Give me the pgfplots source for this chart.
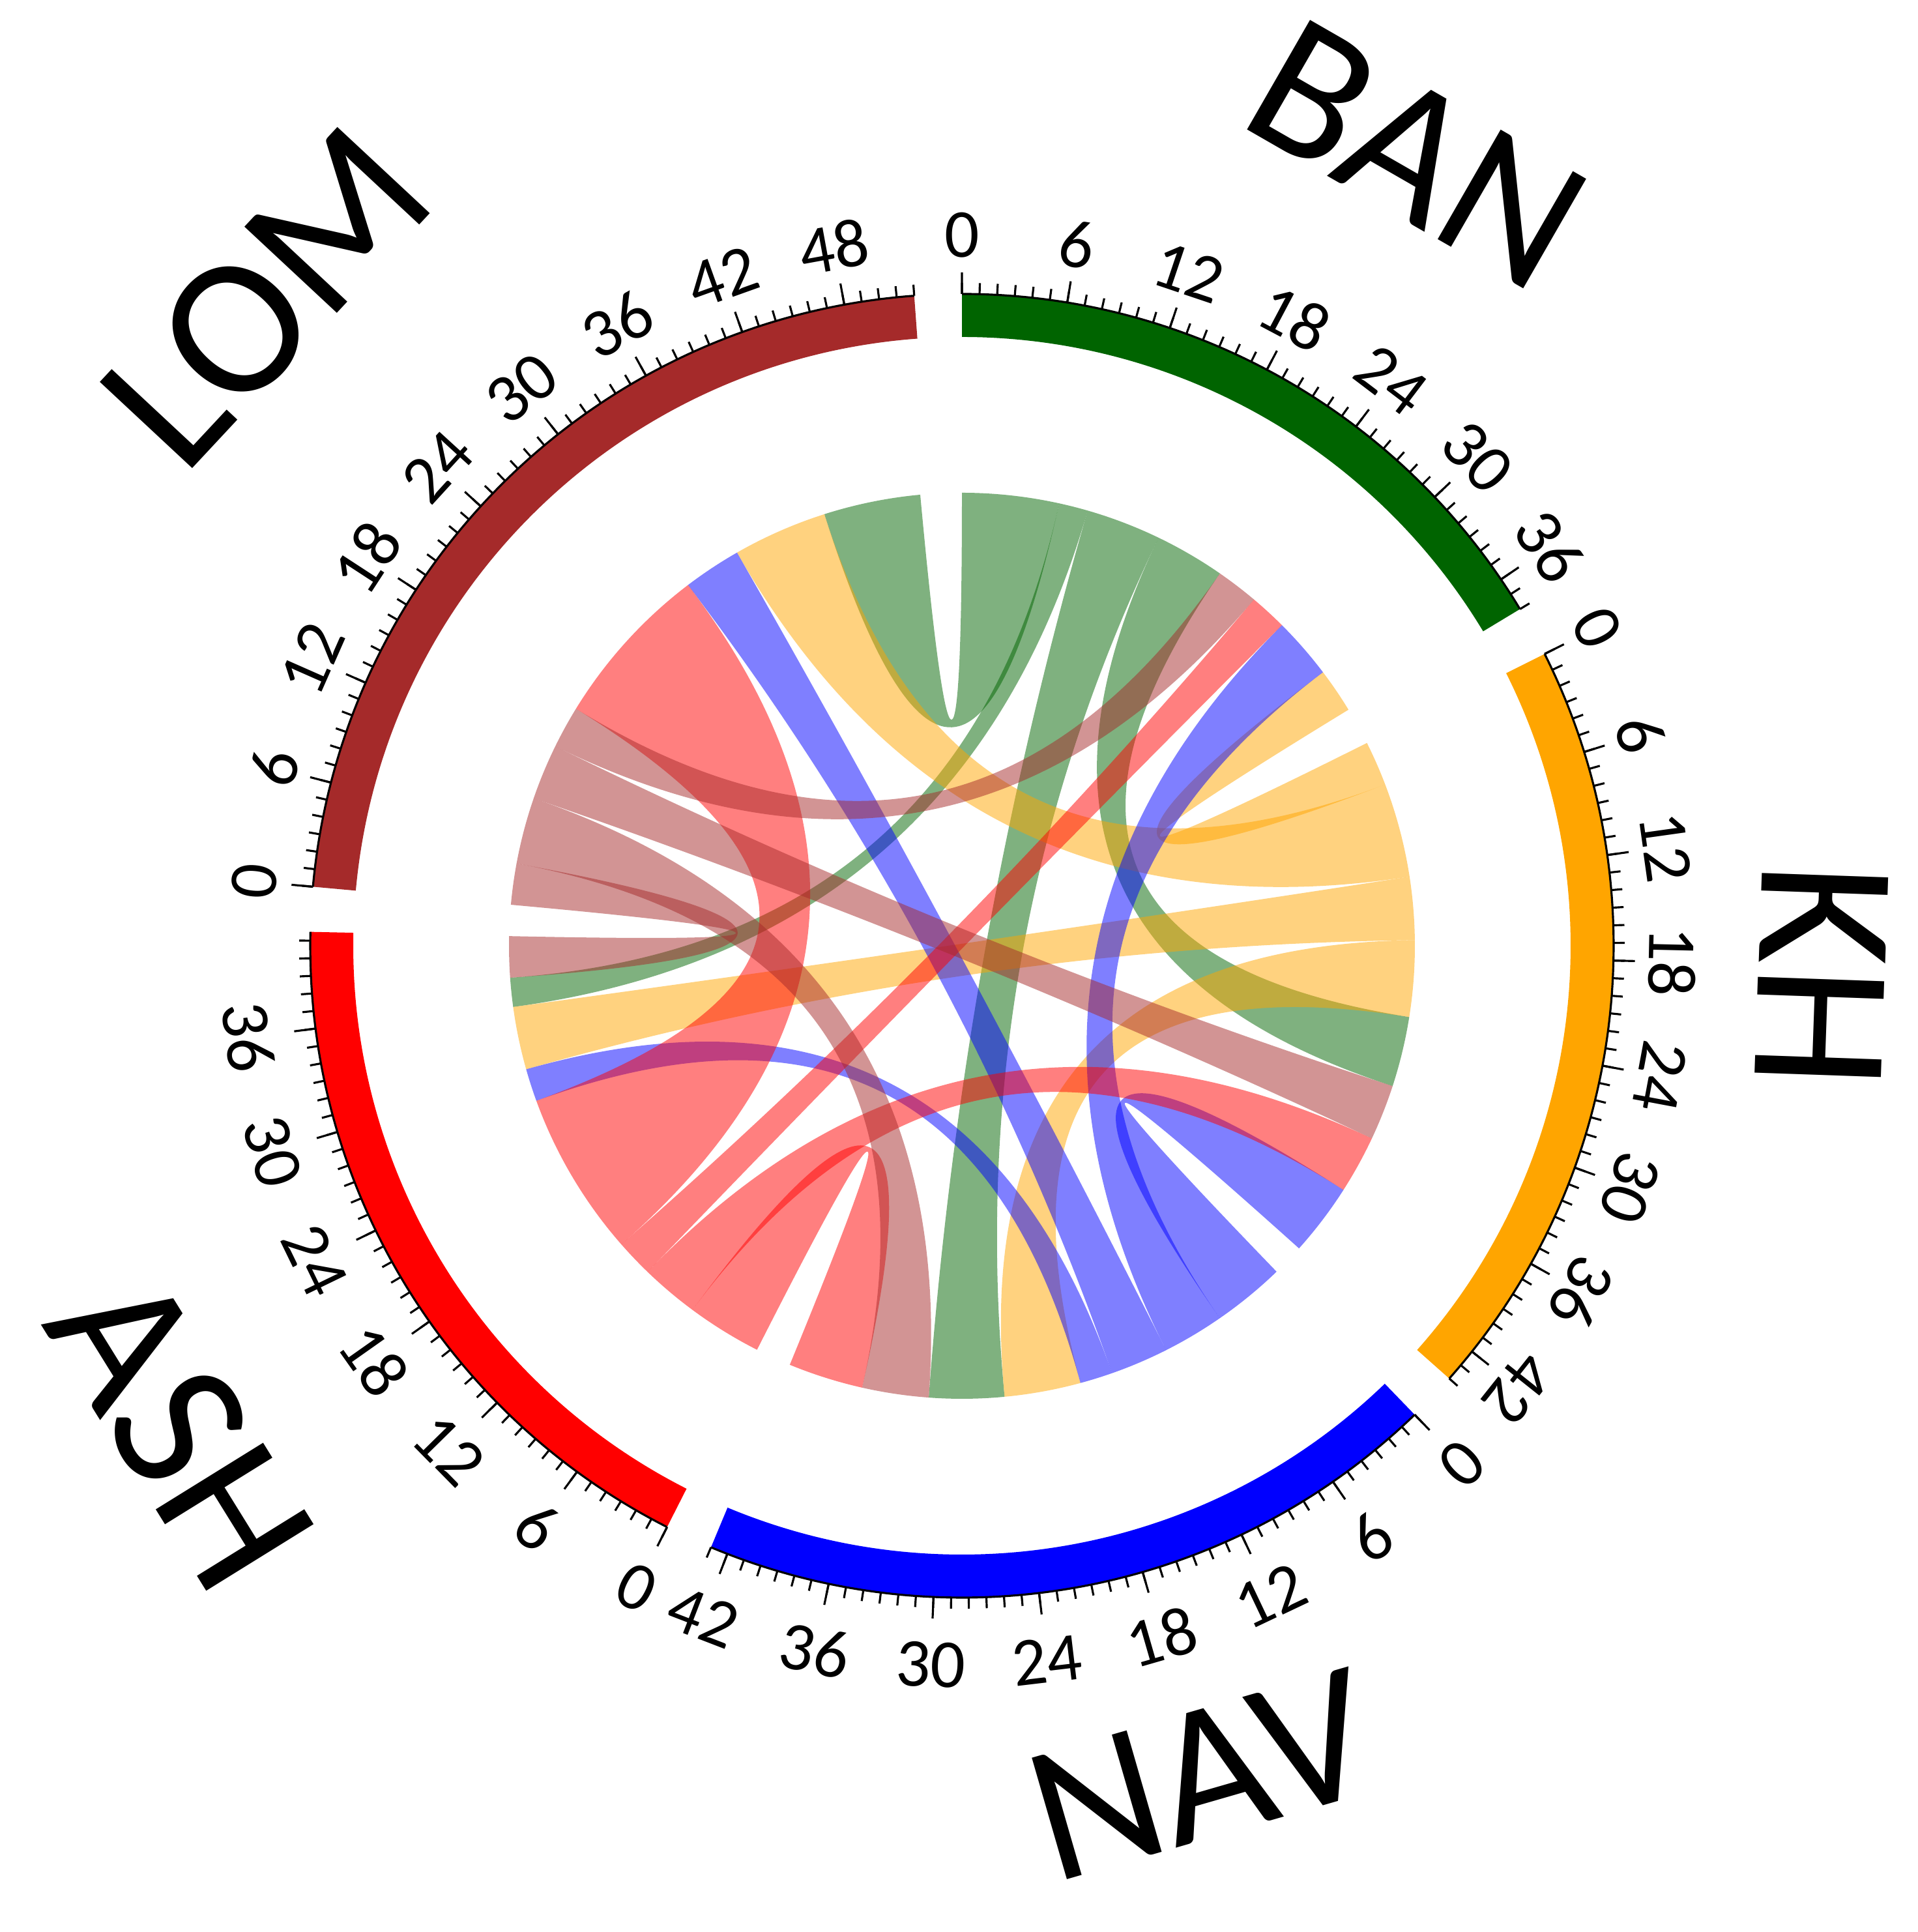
\documentclass[border=0pt]{standalone}
\usepackage{pgfplots}
\pgfplotsset{compat=1.18}
\usepackage{fontspec}
\setmainfont{Carlito}
\definecolor{lomc}{RGB}{165,42,42}
\definecolor{banc}{RGB}{0,100,0}
\definecolor{khc}{RGB}{255,165,0}
\definecolor{navc}{RGB}{0,0,255}
\definecolor{ashc}{RGB}{255,0,0}
\def\Uu{1.55}
\def\Rc{3.475}
\def\RcD{3.475cm}
\def\Ri{4.67}
\def\RiD{4.67cm}
\def\Ro{5.0}
\def\RoD{5.0cm}
\newcommand{\tickfont}{\fontsize{15}{18}\selectfont}
\newcommand{\namefont}{\fontsize{43}{50}\selectfont}
% chord: colour, source start, source offsets (units), target start, target offsets (units)
\newcommand{\chord}[7]{%
\fill[#1, fill opacity=0.5]
 (axis cs:{\Rc*sin(#2+#3*\Uu)},{\Rc*cos(#2+#3*\Uu)})
 arc[start angle={90-(#2+#3*\Uu)}, end angle={90-(#2+#4*\Uu)}, radius=\RcD]
 .. controls (axis cs:{\Rc/3*sin(#2+#4*\Uu)},{\Rc/3*cos(#2+#4*\Uu)})
 and (axis cs:{\Rc/3*sin(#5+#6*\Uu)},{\Rc/3*cos(#5+#6*\Uu)}) ..
 (axis cs:{\Rc*sin(#5+#6*\Uu)},{\Rc*cos(#5+#6*\Uu)})
 arc[start angle={90-(#5+#6*\Uu)}, end angle={90-(#5+#7*\Uu)}, radius=\RcD]
 .. controls (axis cs:{\Rc/3*sin(#5+#7*\Uu)},{\Rc/3*cos(#5+#7*\Uu)})
 and (axis cs:{\Rc/3*sin(#2+#3*\Uu)},{\Rc/3*cos(#2+#3*\Uu)}) ..
 cycle;}
% sector: colour, start angle, length (units), last integer tick, last major tick
\newcommand{\sector}[5]{%
\fill[#1] (axis cs:{\Ri*sin(#2)},{\Ri*cos(#2)}) -- (axis cs:{\Ro*sin(#2)},{\Ro*cos(#2)})
 arc[start angle={90-#2}, end angle={90-(#2+#3*\Uu)}, radius=\RoD]
 -- (axis cs:{\Ri*sin(#2+#3*\Uu)},{\Ri*cos(#2+#3*\Uu)})
 arc[start angle={90-(#2+#3*\Uu)}, end angle={90-#2}, radius=\RiD] -- cycle;
\draw[line width=0.45pt] (axis cs:{\Ro*sin(#2)},{\Ro*cos(#2)})
 arc[start angle={90-#2}, end angle={90-(#2+#3*\Uu)}, radius=\RoD];
\draw[line width=0.45pt] \foreach \k in {0,...,#4} {
 (axis cs:{\Ro*sin(#2+\k*\Uu)},{\Ro*cos(#2+\k*\Uu)}) --
 (axis cs:{(\Ro+0.085)*sin(#2+\k*\Uu)},{(\Ro+0.085)*cos(#2+\k*\Uu)}) };
\draw[line width=0.45pt] \foreach \k in {0,6,...,#5} {
 (axis cs:{\Ro*sin(#2+\k*\Uu)},{\Ro*cos(#2+\k*\Uu)}) --
 (axis cs:{(\Ro+0.165)*sin(#2+\k*\Uu)},{(\Ro+0.165)*cos(#2+\k*\Uu)}) };
}
\newcommand{\outlabels}[2]{%
\path \foreach \k in {0,6,...,#2} {
 (axis cs:{5.45*sin(#1+\k*\Uu)},{5.45*cos(#1+\k*\Uu)})
 node[rotate={-(#1+\k*\Uu)}, font=\tickfont, inner sep=0pt] {\k} };
}
\newcommand{\inlabels}[2]{%
\path \foreach \k in {0,6,...,#2} {
 (axis cs:{5.52*sin(#1+\k*\Uu)},{5.52*cos(#1+\k*\Uu)})
 node[rotate={180-(#1+\k*\Uu)}, font=\tickfont, inner sep=0pt] {\k} };
}
\begin{document}
\begin{tikzpicture}
\begin{axis}[x=1cm, y=1cm, xmin=-7.38, xmax=7.335, ymin=-7.565, ymax=7.255,
  hide axis, clip=false]
\addplot[draw=none] coordinates {(0,0)};
\coordinate (bbll) at (axis cs:-7.38,-7.565);
\coordinate (bbur) at (axis cs:7.335,7.255);
% sector starts: BAN 0, KH 63.4, NAV 136.0, ASH 206.9, LOM 275.2 (degrees clockwise from top)
% BAN outgoing
\chord{banc}{0}{0}{8.0}{275.2}{43.3}{51.3}
\chord{banc}{0}{8.0}{10.4}{206.9}{35.7}{38.1}
\chord{banc}{0}{10.4}{16.6}{136.0}{24.9}{31.1}
\chord{banc}{0}{16.6}{22.4}{63.4}{23.0}{28.8}
% KH outgoing
\chord{khc}{63.4}{0}{3.7}{0}{34.1}{37.8}
\chord{khc}{63.4}{3.7}{11.5}{275.2}{35.5}{43.3}
\chord{khc}{63.4}{11.5}{16.7}{206.9}{30.5}{35.7}
\chord{khc}{63.4}{16.7}{23.0}{136.0}{18.6}{24.9}
% NAV outgoing
\chord{navc}{136.0}{0}{6.0}{63.4}{38.2}{44.2}
\chord{navc}{136.0}{6.0}{11.1}{0}{29.0}{34.1}
\chord{navc}{136.0}{11.1}{15.9}{275.2}{30.7}{35.5}
\chord{navc}{136.0}{15.9}{18.6}{206.9}{27.8}{30.5}
% ASH outgoing
\chord{ashc}{206.9}{0}{6.2}{136.0}{36.6}{42.8}
\chord{ashc}{206.9}{6.2}{11.0}{63.4}{33.4}{38.2}
\chord{ashc}{206.9}{11.0}{14.1}{0}{25.9}{29.0}
\chord{ashc}{206.9}{14.1}{27.8}{275.2}{17.0}{30.7}
% LOM outgoing
\chord{lomc}{275.2}{0}{3.4}{206.9}{38.1}{41.5}
\chord{lomc}{275.2}{3.4}{8.9}{136.0}{31.1}{36.6}
\chord{lomc}{275.2}{8.9}{13.5}{63.4}{28.8}{33.4}
\chord{lomc}{275.2}{13.5}{17.0}{0}{22.4}{25.9}
% outer ring
\sector{banc}{0}{38}{38}{36}
\sector{khc}{63.4}{44}{44}{42}
\sector{navc}{136.0}{43}{43}{42}
\sector{ashc}{206.9}{41.5}{41}{36}
\sector{lomc}{275.2}{52}{52}{48}
\outlabels{0}{36}
\outlabels{63.4}{42}
\inlabels{136.0}{42}
\inlabels{206.9}{36}
\outlabels{275.2}{48}
% sector names
\node[rotate=47, font=\namefont] at (axis cs:{7.3*sin(313)},{7.3*cos(313)}) {LOM};
\node[rotate=-29.9, font=\namefont] at (axis cs:{7.0*sin(29.9)},{7.0*cos(29.9)}) {BAN};
\node[rotate=-92, font=\namefont] at (axis cs:{6.6*sin(92)},{6.6*cos(92)}) {KH};
\node[rotate=16.1, font=\namefont] at (axis cs:{6.62*sin(163.9)},{6.62*cos(163.9)}) {NAV};
\node[rotate=-58.2, font=\namefont] at (axis cs:{7.05*sin(238.2)},{7.05*cos(238.2)}) {ASH};
\end{axis}
\pgfresetboundingbox
\path (bbll) rectangle (bbur);
\end{tikzpicture}
\end{document}
